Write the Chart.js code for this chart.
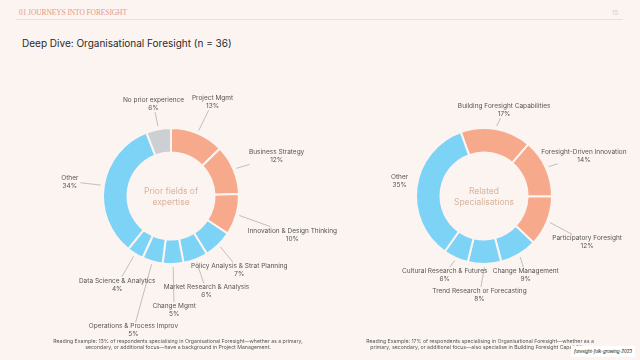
<!DOCTYPE html>
<html>
<head>
<meta charset="utf-8">
<script src="https://cdn.jsdelivr.net/npm/chart.js@4.4.1/dist/chart.umd.min.js"></script>
<style>
  html, body { margin: 0; padding: 0; }
  body { width: 640px; height: 360px; overflow: hidden; background: #fcf4f1; font-family: 'Inter', 'Noto Sans', sans-serif; }
  #page { position: relative; width: 640px; height: 360px; }
  .abs { position: absolute; }
  #section { left: 19px; top: 8px; font-family: 'Liberation Serif', serif; font-size: 7.5px; color: #e39a84; letter-spacing: -0.1px; }
  #pageNo { left: 612px; top: 9px; font-size: 6px; color: #d9c9c4; }
  #rule { left: 16px; top: 19px; width: 607px; height: 1px; background: #efdfda; }
  #title { left: 22px; top: 37px; font-size: 10px; color: #2a2a2a; }
  canvas { position: absolute; top: 0; left: 0; }
  .note { font-size: 5.2px; color: #555; text-align: center; line-height: 6px; white-space: nowrap; }
  #source { left: 571px; top: 346px; width: 64px; height: 11px; background: #fff; font-size: 4.5px; font-style: italic; color: #111; line-height: 11px; text-align: center; white-space: nowrap; letter-spacing: -0.1px; }
</style>
</head>
<body>
<div id="page">
  <div id="section" class="abs">01 JOURNEYS INTO FORESIGHT</div>
  <div id="pageNo" class="abs">15</div>
  <div id="rule" class="abs"></div>
  <div id="title" class="abs">Deep Dive: Organisational Foresight (n = 36)</div>
  <canvas id="priorChart" width="640" height="360"></canvas>
  <canvas id="relatedChart" width="640" height="360"></canvas>
  <div class="abs note" style="left:178px; top:338px; transform: translateX(-50%);">Reading Example: 13% of respondents specialising in Organisational Foresight—whether as a primary,<br>secondary, or additional focus—have a background in Project Management.</div>
  <div class="abs note" style="left:480px; top:338px; transform: translateX(-50%);">Reading Example: 17% of respondents specialising in Organisational Foresight—whether as a<br>primary, secondary, or additional focus—also specialise in Building Foresight Capabilities.</div>
  <div id="source" class="abs">foresight-folk-growing-2023</div>
</div>
<script>
// Prior fields of expertise
const priorLabels = ['Project Mgmt', 'Business Strategy', 'Innovation & Design Thinking', 'Policy Analysis & Strat Planning',
  'Market Research & Analysis', 'Change Mgmt', 'Operations & Process Improv', 'Data Science & Analytics', 'Other', 'No prior experience'];
const priorValues = [13, 12, 10, 7, 6, 5, 5, 4, 34, 6];

// Related specialisations
const relatedLabels = ['Building Foresight Capabilities', 'Foresight-Driven Innovation', 'Participatory Foresight',
  'Change Management', 'Trend Research or Forecasting', 'Cultural Research & Futures', 'Other'];
const relatedValues = [17, 14, 12, 9, 8, 6, 35];

const SALMON = '#f7a98c';
const BLUE = '#7dd3f6';
const GREY = '#cdd0d2';
const BG = '#fcf4f1';

const priorColors = [SALMON, SALMON, SALMON, BLUE, BLUE, BLUE, BLUE, BLUE, BLUE, GREY];
const relatedColors = [SALMON, SALMON, SALMON, BLUE, BLUE, BLUE, BLUE];

// label nudges from the outer edge of each slice (name line centre)
const priorLabelOffsets = [[15, -35], [43, -17], [56, 16], [21, 21], [11, 28], [1, 42], [-19, 65], [-18, 27], [-34, -8], [-5, -29]];
const relatedLabelOffsets = [[8, -23], [38, -16], [40, 17], [7, 17], [-5, 27], [-11, 13], [-17, -10]];

const sliceLabels = {
  id: 'sliceLabels',
  afterDatasetsDraw(chart, args, opts) {
    const ctx = chart.ctx;
    const meta = chart.getDatasetMeta(0);
    const values = chart.data.datasets[0].data;
    const noLine = opts.noLine || [];
    ctx.save();
    ctx.font = '6.5px Inter, "Noto Sans", sans-serif';
    ctx.textAlign = 'center';
    ctx.textBaseline = 'middle';
    meta.data.forEach((arc, i) => {
      const p = arc.getProps(['x', 'y', 'startAngle', 'endAngle', 'outerRadius'], true);
      const mid = (p.startAngle + p.endAngle) / 2;
      const ex = p.x + Math.cos(mid) * p.outerRadius;
      const ey = p.y + Math.sin(mid) * p.outerRadius;
      const sx = p.x + Math.cos(mid) * (p.outerRadius + 3);
      const sy = p.y + Math.sin(mid) * (p.outerRadius + 3);
      const lx = ex + opts.offsets[i][0];
      const ly = ey + opts.offsets[i][1];
      const name = chart.data.labels[i];
      const pct = values[i] + '%';

      // leader line to the edge of the label block
      const hw = Math.max(ctx.measureText(name).width, ctx.measureText(pct).width) / 2 + 2;
      const hh = 8;
      const cx = lx, cy = ly + 4;
      const dx = sx - cx, dy = sy - cy;
      const t = Math.min(dx ? hw / Math.abs(dx) : Infinity, dy ? hh / Math.abs(dy) : Infinity);
      if (t < 0.8 && !noLine.includes(i)) {
        ctx.strokeStyle = '#9a9a9a';
        ctx.lineWidth = 0.6;
        ctx.beginPath();
        ctx.moveTo(sx, sy);
        ctx.lineTo(cx + dx * t, cy + dy * t);
        ctx.stroke();
      }

      ctx.fillStyle = '#555555';
      ctx.fillText(name, lx, ly);
      ctx.fillText(pct, lx, ly + 8);
    });

    // centre caption
    ctx.font = '8.5px Inter, "Noto Sans", sans-serif';
    ctx.fillStyle = '#d8b39d';
    const c = meta.data[0];
    opts.caption.forEach((line, k) => {
      ctx.fillText(line, c.x, c.y - 5 + k * 11);
    });
    ctx.restore();
  }
};

function makeDonut(id, labels, values, colors, rotation, padding, offsets, caption, noLine) {
  return new Chart(document.getElementById(id), {
    type: 'doughnut',
    data: {
      labels: labels,
      datasets: [{
        data: values,
        backgroundColor: colors,
        borderColor: BG,
        borderWidth: 2,
        hoverOffset: 0
      }]
    },
    options: {
      responsive: false,
      animation: false,
      rotation: rotation,
      cutout: '64%',
      layout: { padding: padding },
      plugins: {
        legend: { display: false },
        tooltip: { enabled: false },
        sliceLabels: { offsets: offsets, caption: caption, noLine: noLine }
      }
    },
    plugins: [sliceLabels]
  });
}

makeDonut('priorChart', priorLabels, priorValues, priorColors, 0,
  { left: 102, right: 400, top: 127, bottom: 95 }, priorLabelOffsets, ['Prior fields of', 'expertise'], []);
makeDonut('relatedChart', relatedLabels, relatedValues, relatedColors, -20,
  { left: 415, right: 87, top: 127, bottom: 95 }, relatedLabelOffsets, ['Related', 'Specialisations'], [6]);
</script>
</body>
</html>
